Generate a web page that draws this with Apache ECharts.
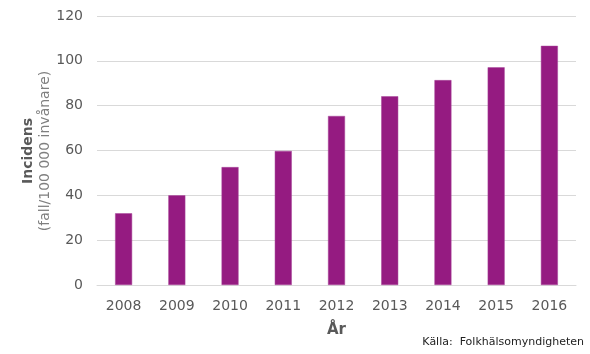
<!DOCTYPE html>
<html>
<head>
<meta charset="utf-8">
<script src="https://cdn.jsdelivr.net/npm/echarts@6/dist/echarts.min.js"></script>
<style>
  html, body { margin: 0; padding: 0; background: #fff; }
  #chart { width: 590px; height: 354px; }
</style>
</head>
<body>
<div id="chart"></div>
<script>
// år och incidens (fall/100 000 invånare)
const years = ['2008', '2009', '2010', '2011', '2012', '2013', '2014', '2015', '2016'];
const incidens = [32, 40, 52.6, 59.8, 75.4, 84.2, 91.4, 97.1, 106.7];
const yTicks = [0, 20, 40, 60, 80, 100, 120];

const chart = echarts.init(document.getElementById('chart'));

const font = 'Tahoma, "DejaVu Sans", sans-serif';

chart.setOption({
  animation: false,
  backgroundColor: '#ffffff',
  grid: { left: 97, right: 14, top: 16, bottom: 69 },
  xAxis: {
    type: 'category',
    data: years,
    name: 'År',
    nameLocation: 'middle',
    nameGap: 38,
    nameTextStyle: { color: '#595959', fontSize: 15, fontWeight: 'bold', fontFamily: font },
    axisLine: { lineStyle: { color: '#d9d9d9' } },
    axisTick: { show: false },
    axisLabel: { color: '#595959', fontSize: 14, fontFamily: font, margin: 14 }
  },
  yAxis: {
    type: 'value',
    min: yTicks[0],
    max: yTicks[yTicks.length - 1],
    interval: yTicks[1] - yTicks[0],
    axisLine: { show: false },
    axisTick: { show: false },
    splitLine: { lineStyle: { color: '#d9d9d9' } },
    axisLabel: { color: '#595959', fontSize: 14, fontFamily: font, margin: 14 }
  },
  graphic: [
    {
      type: 'text',
      x: 37, y: 151,
      rotation: Math.PI / 2,
      style: {
        text: '{a|Incidens}\n{b|(fall/100 000 invånare)}',
        align: 'center',
        verticalAlign: 'middle',
        rich: {
          a: { fontSize: 14, fontWeight: 'bold', fill: '#595959', fontFamily: font, lineHeight: 17 },
          b: { fontSize: 14, fill: '#7f7f7f', fontFamily: font, lineHeight: 17 }
        }
      }
    },
    {
      type: 'text',
      right: 6, top: 337,
      style: { text: 'Källa:  Folkhälsomyndigheten', fontSize: 11, fill: '#222222', fontFamily: font }
    }
  ],
  series: [
    {
      type: 'bar',
      data: incidens,
      barWidth: 17,
      itemStyle: { color: '#951b81', borderColor: '#a8479a', borderWidth: 0.5 }
    }
  ]
});
</script>
</body>
</html>
